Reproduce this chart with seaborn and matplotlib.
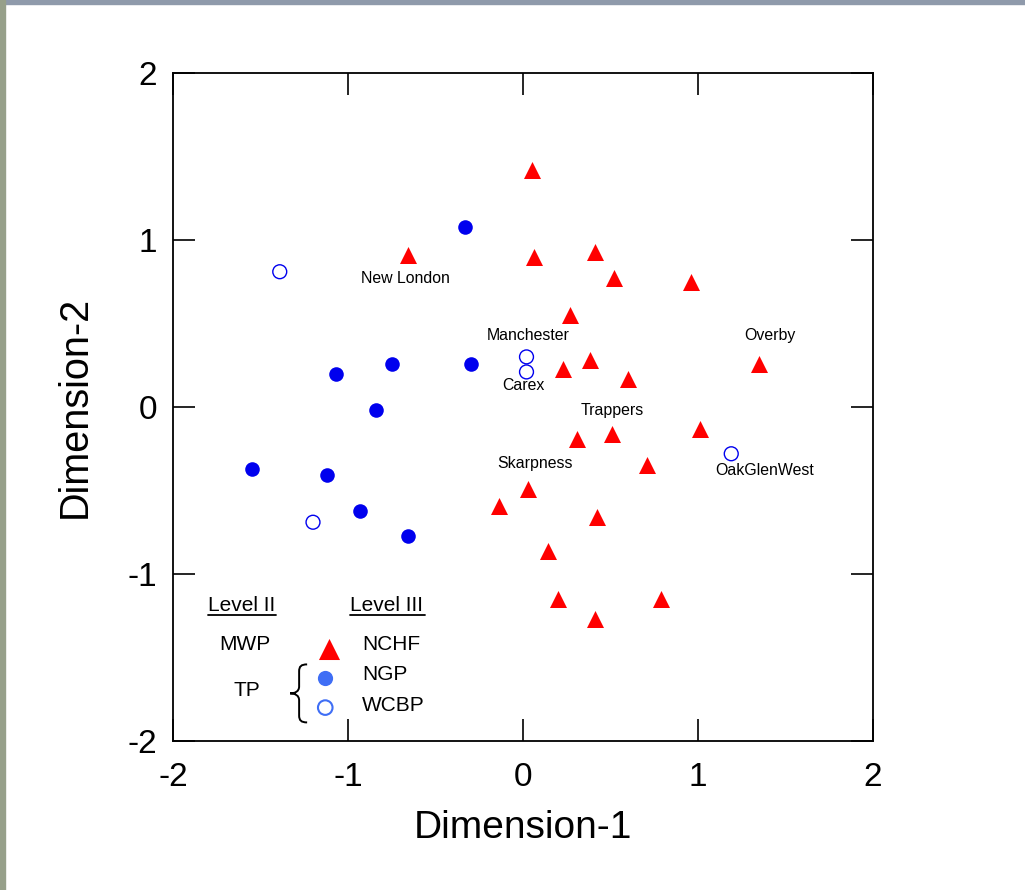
import matplotlib
matplotlib.use("Agg")
import matplotlib.pyplot as plt
from matplotlib.patches import Rectangle, PathPatch
from matplotlib.path import Path
import seaborn as sns
import pandas as pd

# ---- data ----
nchf_x = [0.05, -0.66, 0.06, 0.41, 0.52, 0.96, 0.27, 0.23, 0.38, 0.60, 1.35,
          0.31, 0.51, 1.01, 0.71, 0.03, -0.14, 0.42, 0.14, 0.20, 0.41, 0.79]
nchf_y = [1.42, 0.91, 0.90, 0.93, 0.77, 0.75, 0.55, 0.23, 0.28, 0.17, 0.26,
          -0.19, -0.16, -0.13, -0.35, -0.49, -0.59, -0.66, -0.86, -1.15, -1.27, -1.15]
ngp_x = [-0.33, -1.07, -0.75, -0.30, -0.84, -1.55, -1.12, -0.93, -0.66]
ngp_y = [1.08, 0.20, 0.26, 0.26, -0.02, -0.37, -0.41, -0.62, -0.77]
wcbp_x = [-1.39, 0.02, 0.02, 1.19, -1.20]
wcbp_y = [0.81, 0.30, 0.21, -0.28, -0.69]

site_names = ["New London", "Manchester", "Carex", "Overby", "Trappers", "Skarpness", "OakGlenWest"]
site_lx = [-0.67, 0.03, 0.00, 1.41, 0.51, 0.07, 1.38]
site_ly = [0.77, 0.43, 0.13, 0.43, -0.02, -0.34, -0.38]

xticks = [-2, -1, 0, 1, 2]
yticks = [-2, -1, 0, 1, 2]
x_label = "Dimension-1"
y_label = "Dimension-2"

sns.set_theme(style="white")
plt.rcParams['font.family'] = ['Liberation Sans', 'DejaVu Sans']
plt.rcParams['text.color'] = 'black'
plt.rcParams['axes.labelcolor'] = 'black'
plt.rcParams['xtick.color'] = 'black'
plt.rcParams['ytick.color'] = 'black'

fig = plt.figure(figsize=(10.25, 8.9), dpi=100)
fig.patch.set_facecolor("white")
# faint background strips at the top and left edges
fig.patches.append(Rectangle((0, 1 - 4 / 890), 1, 4 / 890, transform=fig.transFigure,
                             color="#8f9aab", zorder=0))
fig.patches.append(Rectangle((0, 0), 5 / 1025, 1, transform=fig.transFigure,
                             color="#97a08a", zorder=0))

ax = fig.add_axes([173 / 1025, 149 / 890, 700 / 1025, 668 / 890])

blue = "#0000ee"
red = "#ff0000"
legend_blue = "#3f6ef5"

df_n = pd.DataFrame({"x": nchf_x, "y": nchf_y})
df_g = pd.DataFrame({"x": ngp_x, "y": ngp_y})
df_w = pd.DataFrame({"x": wcbp_x, "y": wcbp_y})

sns.scatterplot(data=df_n, x="x", y="y", ax=ax, marker="^", s=150, color=red,
                edgecolor=red, linewidth=0, zorder=3)
sns.scatterplot(data=df_g, x="x", y="y", ax=ax, marker="o", s=110, color=blue,
                edgecolor=blue, linewidth=0, zorder=3)
ax.scatter(df_w["x"], df_w["y"], marker="o", s=100, facecolors="none",
           edgecolors=blue, linewidths=1.0, zorder=3)

for name, lx, ly in zip(site_names, site_lx, site_ly):
    ax.text(lx, ly, name, ha="center", va="center", fontsize=11.4, color="black")

ax.set_xlim(-2, 2)
ax.set_ylim(-2, 2)
ax.set_xticks(xticks)
ax.set_yticks(yticks)
ax.set_xticklabels([str(t) for t in xticks])
ax.set_yticklabels([str(t) for t in yticks])
ax.set_xlabel(x_label, fontsize=28, labelpad=12)
ax.set_ylabel(y_label, fontsize=28.5, labelpad=24)
ax.tick_params(axis="both", which="major", direction="in", length=16, width=1.2,
               labelsize=24, top=True, right=True, bottom=True, left=True,
               color="black", labelcolor="black")
ax.tick_params(axis="x", pad=15)
ax.tick_params(axis="y", pad=11.5)
for sp in ax.spines.values():
    sp.set_visible(True)
    sp.set_color("black")
    sp.set_linewidth(1.3)

# ---- custom legend ----
lf = 15
ax.text(-1.61, -1.19, "Level II", ha="center", va="center", fontsize=lf)
ax.text(-0.78, -1.19, "Level III", ha="center", va="center", fontsize=lf)
ax.plot([-1.80, -1.41], [-1.245, -1.245], color="black", lw=1.3, zorder=4)
ax.plot([-0.99, -0.56], [-1.245, -1.245], color="black", lw=1.3, zorder=4)
ax.text(-1.59, -1.42, "MWP", ha="center", va="center", fontsize=lf)
ax.text(-1.58, -1.70, "TP", ha="center", va="center", fontsize=lf)
ax.text(-0.92, -1.42, "NCHF", ha="left", va="center", fontsize=lf)
ax.text(-0.92, -1.60, "NGP", ha="left", va="center", fontsize=lf)
ax.text(-0.92, -1.79, "WCBP", ha="left", va="center", fontsize=lf)
ax.scatter([-1.11], [-1.45], marker="^", s=230, color=red, linewidths=0, zorder=4)
ax.scatter([-1.13], [-1.62], marker="o", s=120, color=legend_blue, linewidths=0, zorder=4)
ax.scatter([-1.13], [-1.80], marker="o", s=110, facecolors="none",
           edgecolors=legend_blue, linewidths=1.5, zorder=4)

# curly brace (thin path)
bx, by = -1.285, -1.715
sx, sy = 1 / 175, 1 / 167
pix = [(9, -29), (3, -29), (1, -27), (1, -22),
       (1, -7),
       (1, -2), (-3, 0), (-8, 0),
       (-3, 0), (1, 2), (1, 7),
       (1, 22),
       (1, 27), (3, 29), (9, 29)]
codes = [Path.MOVETO, Path.CURVE4, Path.CURVE4, Path.CURVE4,
         Path.LINETO,
         Path.CURVE4, Path.CURVE4, Path.CURVE4,
         Path.CURVE4, Path.CURVE4, Path.CURVE4,
         Path.LINETO,
         Path.CURVE4, Path.CURVE4, Path.CURVE4]
verts = [(bx + dx * sx, by - dy * sy) for dx, dy in pix]
ax.add_patch(PathPatch(Path(verts, codes), facecolor="none", edgecolor="black",
                       lw=1.4, zorder=4))

fig.savefig("out.png", dpi=100)
